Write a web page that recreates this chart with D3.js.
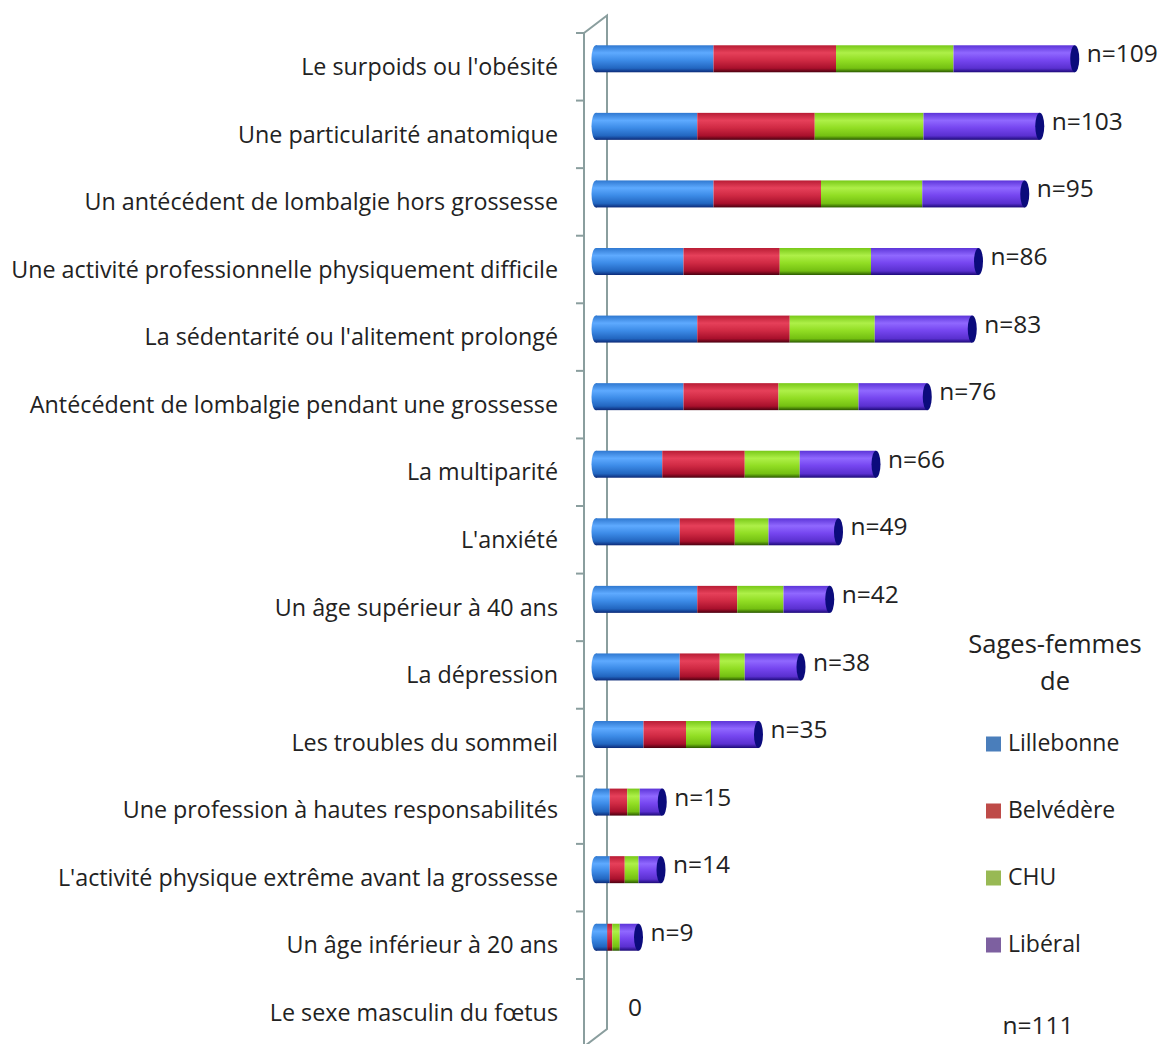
<!DOCTYPE html>
<html>
<head>
<meta charset="utf-8">
<script src="https://d3js.org/d3.v7.min.js"></script>
<style>
  body { margin: 0; background: #fff; }
  text { font-family: "Open Sans", sans-serif; fill: #222; }
</style>
</head>
<body>
<script>
const categories = [
    "Le surpoids ou l'obésité",
    "Une particularité anatomique",
    "Un antécédent de lombalgie hors grossesse",
    "Une activité professionnelle physiquement difficile",
    "La sédentarité ou l'alitement prolongé",
    "Antécédent de lombalgie pendant une grossesse",
    "La multiparité ",
    "L'anxiété",
    "Un âge supérieur à 40 ans",
    "La dépression",
    "Les troubles du sommeil",
    "Une profession à hautes responsabilités",
    "L'activité physique extrême avant la grossesse",
    "Un âge inférieur à 20 ans",
    "Le sexe masculin du fœtus"
];
const groups = ["Lillebonne", "Belvédère", "CHU", "Libéral"];
// % des sages-femmes de chaque groupe
const lillebonne = [94, 81, 94, 70, 81, 70, 53, 67, 81, 67, 38, 11, 11, 9, 0];
const belvedere  = [98, 94, 86, 77, 74, 76, 66, 44, 32, 32, 34, 14, 12, 4, 0];
const chu        = [94, 87, 81, 73, 68, 64, 44, 27, 37, 20, 20, 10, 11, 6, 0];
const liberal    = [97, 93, 82, 86, 78, 55, 61, 56, 37, 45, 38, 18, 18, 15, 0];
const nLabels = ["n=109", "n=103", "n=95", "n=86", "n=83", "n=76", "n=66", "n=49", "n=42", "n=38", "n=35", "n=15", "n=14", "n=9", "0"];
const total = "n=111";

const width = 1164, height = 1044;
const legendColors = ["#4a7ebb", "#be4b48", "#98b954", "#7d60a0"];
const barColors = [
    ["#2f78d0", "#5eaaff", "#3d8ce8", "#2266c0", "#0c2a78"],
    ["#b81c34", "#e6405a", "#d02a44", "#a8102c", "#4a0010"],
    ["#78c818", "#aef048", "#92de24", "#74c012", "#2a5800"],
    ["#5c34d8", "#9068ff", "#7646f0", "#5a30d0", "#1c0a78"]
];

const svg = d3.select("body").append("svg")
    .attr("width", width)
    .attr("height", height);

const defs = svg.append("defs");
barColors.forEach((c, i) => {
    let g = defs.append("linearGradient")
        .attr("id", "cyl" + i)
        .attr("x1", "0%").attr("y1", "0%")
        .attr("x2", "0%").attr("y2", "100%");
    [0, 0.28, 0.55, 0.85, 1].forEach((o, j) => {
        g.append("stop").attr("offset", o).attr("stop-color", c[j]);
    });
});

const x = d3.scaleLinear().domain([0, 400]).range([596, 1096]);
const y = d3.scaleBand().domain(categories).range([33, 1046.6]);

const depthX = 23, depthY = -17.5;
const x0 = 584;

// wall
const wall = svg.append("g")
    .attr("stroke", "#8a9e9e")
    .attr("stroke-width", 2)
    .attr("fill", "none");
wall.append("line").attr("x1", x0).attr("x2", x0).attr("y1", y.range()[0]).attr("y2", height);
wall.append("path")
    .attr("d", `M${x0},${y.range()[0]} L${x0 + depthX},${y.range()[0] + depthY} L${x0 + depthX},${y.range()[1] + depthY} L${x0},${y.range()[1]}`);
const tickYs = categories.map(c => y(c)).concat([y.range()[1]]);
wall.selectAll(".tick")
    .data(tickYs)
    .enter().append("line")
    .attr("x1", x0 - 8).attr("x2", x0)
    .attr("y1", d => d).attr("y2", d => d);

// category labels
svg.append("g")
    .selectAll("text")
    .data(categories)
    .enter().append("text")
    .attr("x", 558)
    .attr("y", d => y(d) + y.bandwidth() / 2 + 2)
    .attr("text-anchor", "end")
    .attr("dominant-baseline", "middle")
    .style("font-size", "23.3px")
    .text(d => d);

// stacked cylinders
const rows = categories.map((c, i) => ({
    cat: c, Lillebonne: lillebonne[i], "Belvédère": belvedere[i], CHU: chu[i], "Libéral": liberal[i]
}));
const series = d3.stack().keys(groups)(rows);
const barH = 27, rx = 4.5;
const cy = d => y(d.data.cat) + y.bandwidth() / 2 - 8;

const bars = svg.append("g");
// left rounded end
bars.selectAll(".lend")
    .data(rows.filter(r => r.Lillebonne > 0))
    .enter().append("ellipse")
    .attr("cx", x(0))
    .attr("cy", d => y(d.cat) + y.bandwidth() / 2 - 8)
    .attr("rx", rx).attr("ry", barH / 2)
    .attr("fill", "url(#cyl0)");

series.forEach((s, i) => {
    bars.selectAll(".seg" + i)
        .data(s.filter(d => d[1] > d[0]))
        .enter().append("rect")
        .attr("x", d => x(d[0]))
        .attr("y", d => cy(d) - barH / 2)
        .attr("width", d => x(d[1]) - x(d[0]))
        .attr("height", barH)
        .attr("fill", `url(#cyl${i})`);
});

// end caps
const last = series[series.length - 1];
bars.selectAll(".cap")
    .data(last.filter(d => d[1] > 0))
    .enter().append("ellipse")
    .attr("cx", d => x(d[1]))
    .attr("cy", d => cy(d))
    .attr("rx", rx).attr("ry", barH / 2)
    .attr("fill", "#0b0b7c");

// n labels
svg.append("g")
    .selectAll("text")
    .data(last)
    .enter().append("text")
    .attr("x", d => d[1] > 0 ? x(d[1]) + 12 : x(0) + 32)
    .attr("y", (d, i) => cy(d) - 3 + (d[1] > 0 ? 0 : 8))
    .attr("dominant-baseline", "middle")
    .style("font-size", "24.5px")
    .text((d, i) => nLabels[i]);

// legend
const legend = svg.append("g");
legend.selectAll(".title")
    .data(["Sages-femmes", "de"])
    .enter().append("text")
    .attr("x", 1055)
    .attr("y", (d, i) => 646 + i * 37)
    .attr("text-anchor", "middle")
    .attr("dominant-baseline", "middle")
    .style("font-size", "25.5px")
    .text(d => d);

const items = legend.selectAll(".item")
    .data(groups)
    .enter().append("g")
    .attr("transform", (d, i) => `translate(986, ${744 + i * 67})`);
items.append("rect")
    .attr("x", 0).attr("y", -7.5)
    .attr("width", 15).attr("height", 15)
    .attr("fill", (d, i) => legendColors[i]);
items.append("text")
    .attr("x", 22).attr("y", 1)
    .attr("dominant-baseline", "middle")
    .style("font-size", "23px")
    .text(d => d);

legend.append("text")
    .attr("x", 1038).attr("y", 1027)
    .attr("text-anchor", "middle")
    .attr("dominant-baseline", "middle")
    .style("font-size", "24.5px")
    .text(total);
</script>
</body>
</html>
